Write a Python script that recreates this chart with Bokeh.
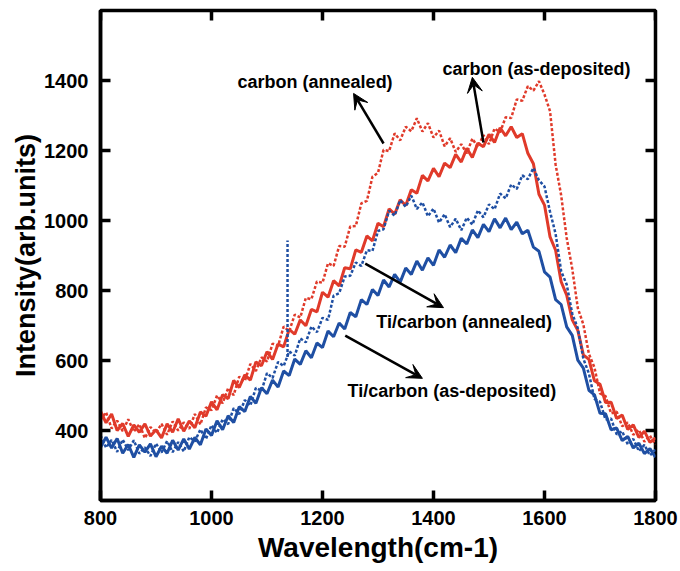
from bokeh.plotting import figure
from bokeh.models import Range1d, FixedTicker, Label, Arrow, VeeHead
from bokeh.embed import file_html
from bokeh.resources import INLINE

# Raman-like spectra (x: wavenumber step 10)
wavenumber = list(range(800, 1801, 10))

carbon_as_deposited = [
    455, 422, 447, 400, 420, 383, 416, 395, 419, 384,
    402, 379, 419, 395, 433, 398, 427, 408, 453, 441,
    482, 459, 502, 491, 543, 523, 559, 544, 596, 585,
    625, 603, 647, 639, 689, 675, 716, 699, 746, 739,
    795, 781, 828, 813, 865, 862, 916, 909, 956, 942,
    992, 982, 1033, 1018, 1059, 1043, 1088, 1078, 1129, 1113,
    1149, 1125, 1164, 1151, 1189, 1167, 1206, 1180, 1221, 1211,
    1246, 1223, 1265, 1242, 1268, 1237, 1248, 1192, 1162, 1075,
    1044, 953, 915, 825, 787, 716, 686, 616, 603, 542,
    532, 480, 481, 434, 444, 403, 416, 380, 398, 366,
    379]

carbon_annealed = [
    430, 452, 406, 428, 398, 432, 397, 418, 378, 410,
    393, 419, 388, 426, 400, 423, 405, 447, 417, 466,
    458, 500, 478, 521, 501, 554, 541, 590, 570, 609,
    597, 648, 642, 697, 684, 731, 723, 779, 775, 826,
    822, 878, 870, 927, 925, 983, 984, 1049, 1056, 1125,
    1136, 1202, 1198, 1249, 1229, 1268, 1255, 1292, 1254, 1278,
    1237, 1257, 1212, 1235, 1196, 1218, 1192, 1234, 1210, 1244,
    1218, 1263, 1252, 1295, 1293, 1346, 1342, 1384, 1371, 1398,
    1360, 1312, 1160, 1072, 950, 862, 750, 703, 619, 580,
    506, 498, 449, 454, 412, 423, 388, 402, 368, 385,
    360]

ti_carbon_as_deposited = [
    351, 381, 350, 377, 335, 360, 323, 359, 338, 362,
    325, 355, 335, 372, 344, 376, 347, 380, 359, 404,
    386, 428, 402, 442, 423, 468, 454, 497, 478, 522,
    505, 544, 524, 570, 557, 604, 589, 628, 608, 650,
    637, 684, 668, 707, 690, 737, 725, 774, 760, 803,
    786, 830, 810, 846, 824, 864, 846, 884, 858, 893,
    872, 916, 895, 930, 908, 949, 933, 973, 951, 989,
    968, 1005, 979, 1007, 974, 995, 962, 972, 924, 912,
    853, 838, 774, 760, 696, 672, 601, 578, 515, 502,
    449, 448, 402, 407, 371, 383, 350, 364, 334, 348,
    324]

ti_carbon_annealed = [
    386, 351, 373, 339, 374, 344, 372, 334, 352, 327,
    363, 337, 370, 338, 367, 340, 381, 369, 403, 376,
    415, 393, 432, 418, 464, 447, 487, 471, 522, 513,
    564, 550, 596, 584, 626, 614, 663, 652, 697, 681,
    722, 716, 785, 792, 840, 842, 880, 870, 915, 913,
    970, 975, 1028, 1014, 1058, 1039, 1071, 1033, 1052, 1012,
    1034, 994, 1018, 981, 1005, 972, 1008, 988, 1029, 1009,
    1046, 1032, 1077, 1063, 1103, 1090, 1129, 1118, 1150, 1115,
    1097, 1025, 962, 855, 817, 734, 692, 605, 563, 490,
    482, 431, 434, 389, 398, 360, 376, 341, 359, 329,
    345]

# narrow spike in the Ti/carbon (annealed) trace
spike_x = [1137, 1137]
spike_y = [610, 943]

x_ticks = [800, 1000, 1200, 1400, 1600, 1800]
y_ticks = [400, 600, 800, 1000, 1200, 1400]

RED = "#e03a2a"
BLUE = "#1f4fa3"
FONT = "Liberation Sans"
X0, X1, Y0, Y1 = 800, 1800, 200, 1600

p = figure(width=680, height=571,
           x_range=Range1d(X0, X1), y_range=Range1d(Y0, Y1),
           output_backend="svg", toolbar_location=None,
           min_border_left=100, min_border_right=25,
           min_border_top=10, min_border_bottom=71,
           x_axis_label="Wavelength(cm-1)",
           y_axis_label="Intensity(arb.units)")

p.xgrid.visible = False
p.ygrid.visible = False
p.outline_line_color = "black"
p.outline_line_width = 3.5
p.background_fill_color = "white"
p.border_fill_color = "white"

for ax, ticks in ((p.xaxis[0], x_ticks), (p.yaxis[0], y_ticks)):
    ax.ticker = FixedTicker(ticks=ticks)
    ax.minor_tick_line_color = None
    ax.major_tick_in = 10
    ax.major_tick_out = 0
    ax.major_tick_line_width = 3.5
    ax.axis_line_width = 3.5
    ax.major_label_text_font = FONT
    ax.major_label_text_font_style = "bold"
    ax.major_label_text_font_size = "20px"
    ax.major_label_text_color = "black"
    ax.axis_label_text_font = FONT
    ax.axis_label_text_font_style = "bold"
    ax.axis_label_text_font_size = "28px"
    ax.axis_label_text_color = "black"

p.xaxis[0].major_label_standoff = 10
p.xaxis[0].axis_label_standoff = 4
p.yaxis[0].major_label_standoff = 12
p.yaxis[0].axis_label_standoff = 0
p.yaxis[0].axis_label_text_font_size = "27px"

# mirrored inward ticks on the top and right frame edges (10 px long)
top_len = 10 / 350 * (Y1 - Y0) / 1.4 * 1.4 * 1.0  # 10 px in data units (490 px frame height)
top_len = (Y1 - Y0) * 10 / 490
right_len = (X1 - X0) * 10 / 555
p.segment(x0=x_ticks, y0=[Y1] * len(x_ticks), x1=x_ticks, y1=[Y1 - top_len] * len(x_ticks),
          line_color="black", line_width=3.5)
p.segment(x0=[X1] * len(y_ticks), y0=y_ticks, x1=[X1 - right_len] * len(y_ticks), y1=y_ticks,
          line_color="black", line_width=3.5)

p.line(wavenumber, carbon_annealed, line_color=RED, line_width=2.5, line_dash="3 2")
p.line(wavenumber, carbon_as_deposited, line_color=RED, line_width=3)
p.line(wavenumber, ti_carbon_annealed, line_color=BLUE, line_width=2.5, line_dash="3 2")
p.line(spike_x, spike_y, line_color=BLUE, line_width=2.5, line_dash="3 2")
p.line(wavenumber, ti_carbon_as_deposited, line_color=BLUE, line_width=3)

labels = [
    ("carbon (annealed)", 1047, 1397),
    ("carbon (as-deposited)", 1416, 1434),
    ("Ti/carbon (annealed)", 1297, 709),
    ("Ti/carbon (as-deposited)", 1245, 514),
]
for txt, lx, ly in labels:
    p.add_layout(Label(x=lx, y=ly, text=txt, text_font=FONT, text_font_style="bold",
                       text_font_size="18px", text_baseline="middle", text_align="left",
                       text_color="black"))

arrows = [
    (1310, 1220, 1256, 1363),
    (1490, 1223, 1470, 1409),
    (1277, 877, 1418, 751),
    (1241, 671, 1380, 549),
]
for xs, ys, xe, ye in arrows:
    p.add_layout(Arrow(end=VeeHead(size=15, fill_color="black", line_color="black", line_width=1),
                       x_start=xs, y_start=ys, x_end=xe, y_end=ye,
                       line_color="black", line_width=2.5))

open("out.html", "w").write(file_html(p, INLINE))
